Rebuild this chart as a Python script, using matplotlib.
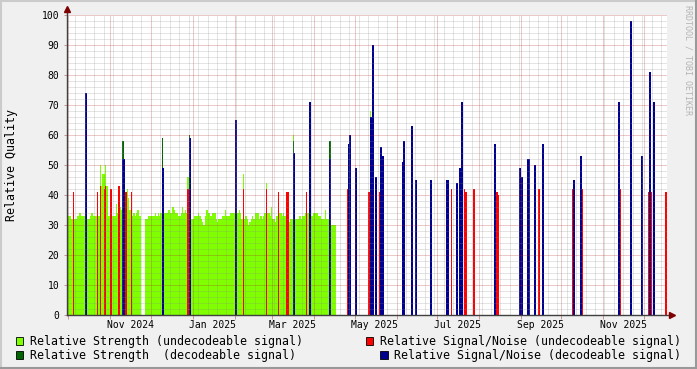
import numpy as np
import pandas as pd
import matplotlib
matplotlib.use('Agg')
import matplotlib.pyplot as plt
import matplotlib.dates as mdates
from matplotlib.patches import Rectangle
from matplotlib.lines import Line2D
from matplotlib.ticker import MultipleLocator, NullFormatter

plt.rcParams['font.family'] = 'DejaVu Sans Mono'

# relative strength, undecodeable signal: one value per day
strength_undec_start = '2024-09-30'
strength_undec = [
    33, 33, 33, 32, 32, 32, 32, 33, 33, 34,
    33, 33, 33, 33, 32, 32, 32, 33, 34, 33,
    33, 33, 33, 33, 50, 43, 47, 47, 50, 43,
    33, 33, 33, 33, 33, 33, 37, 34, 33, 36,
    35, 33, 33, 33, 42, 39, 35, 33, 33, 34,
    33, 34, 35, 33, 33, np.nan, np.nan, np.nan, 32, 32,
    33, 33, 33, 33, 33, 34, 33, 34, 33, 34,
    34, 34, 34, 34, 34, 35, 34, 34, 36, 35,
    34, 34, 33, 33, 34, 36, 34, 35, 34, 46,
    34, 34, 32, 32, 33, 33, 33, 34, 33, 32,
    31, 30, 33, 35, 34, 34, 33, 34, 34, 34,
    32, 31, 32, 32, 32, 33, 33, 35, 33, 33,
    33, 34, 34, 34, 34, 34, 34, 35, 34, 32,
    47, 32, 33, 32, 30, 31, 32, 33, 32, 34,
    34, 34, 32, 33, 32, 33, 34, 44, 34, 34,
    33, 36, 32, 32, 31, 33, 34, 34, 34, 33,
    34, 33, 33, 33, 31, 32, 32, 60, 32, 32,
    32, 32, 33, 32, 33, 33, 34, 34, 34, 32,
    32, 33, 34, 34, 34, 34, 33, 33, 32, 32,
    32, 35, 32, 32, 32, 30, 30, 30, 30,
]
strength_undec_late_dates = ['2025-05-12']
strength_undec_late = [68]

# relative strength, decodeable signal
strength_dec_dates = ['2024-11-10', '2024-12-09', '2024-12-29', '2025-03-16', '2025-04-12',
                      '2025-04-27', '2025-05-12', '2025-05-20', '2025-06-12', '2025-07-17',
                      '2025-07-19', '2025-11-29', '2025-12-08']
strength_dec = [58, 59, 60, 58, 58, 50, 52, 50, 53, 44, 44, 42, 57]

# relative signal/noise, undecodeable signal
snr_undec_dates = ['2024-10-04', '2024-10-22', '2024-10-24', '2024-10-27', '2024-10-28',
                   '2024-11-01', '2024-11-07', '2024-11-11', '2024-11-12', '2024-11-16',
                   '2024-12-28', '2025-02-02', '2025-02-07', '2025-02-24', '2025-03-05',
                   '2025-03-11', '2025-03-12', '2025-03-26', '2025-04-25', '2025-05-11',
                   '2025-05-19', '2025-05-22', '2025-07-11', '2025-07-21', '2025-07-22',
                   '2025-07-28', '2025-08-14', '2025-08-15', '2025-09-14', '2025-10-09',
                   '2025-10-16', '2025-11-13', '2025-12-04', '2025-12-06', '2025-12-17']
snr_undec = [41, 41, 43, 42, 43, 42, 43, 42, 41, 41,
             42, 41, 42, 42, 41, 41, 41, 41, 42, 41,
             41, 44, 42, 42, 41, 42, 41, 40, 42, 42,
             42, 42, 41, 41, 41]

# relative signal/noise, decodeable signal
snr_dec_dates = ['2024-10-13', '2024-11-10', '2024-12-09', '2024-12-29', '2025-02-01',
                 '2025-03-16', '2025-03-28', '2025-04-12', '2025-04-26', '2025-04-27',
                 '2025-05-01', '2025-05-12', '2025-05-14', '2025-05-16', '2025-05-20',
                 '2025-05-21', '2025-06-05', '2025-06-06', '2025-06-12', '2025-06-15',
                 '2025-06-26', '2025-07-08', '2025-07-15', '2025-07-17', '2025-07-18',
                 '2025-07-19', '2025-08-12', '2025-08-31', '2025-09-01', '2025-09-06',
                 '2025-09-11', '2025-09-17', '2025-10-10', '2025-10-15', '2025-11-12',
                 '2025-11-21', '2025-11-29', '2025-12-05', '2025-12-08']
snr_dec = [74, 52, 49, 59, 65, 54, 71, 52, 57, 60,
           49, 66, 90, 46, 56, 53, 51, 58, 63, 45,
           45, 45, 44, 49, 45, 71, 57, 49, 46, 52,
           50, 57, 45, 53, 71, 98, 53, 81, 71]

label_months = ['2024-11', '2025-01', '2025-03', '2025-05', '2025-07', '2025-09', '2025-11']

legend_labels = ['Relative Strength (undecodeable signal)',
                 'Relative Strength  (decodeable signal)',
                 'Relative Signal/Noise (undecodeable signal)',
                 'Relative Signal/Noise (decodeable signal)']
colors = ['#7FFF00', '#006400', '#FF0000', '#000090']

W, H = 697, 369


def fx(x):
    return x / W


def fy(y):
    return 1 - y / H


fig = plt.figure(figsize=(W / 100, H / 100), dpi=100, facecolor='#F0F0F0')
ax = fig.add_axes([fx(67), 54 / H, 600 / W, 300 / H])
ax.set_facecolor('white')

t0 = mdates.date2num(pd.Timestamp('2024-10-01'))
ax.set_xlim(t0 - 1.1, t0 - 1.1 + 600 / 1.35)
ax.set_ylim(0, 100)

# undecodeable strength as a filled step area
edges = mdates.date2num(pd.date_range(strength_undec_start, periods=len(strength_undec) + 1, freq='D'))
ax.stairs(np.array(strength_undec, dtype=float), edges, fill=True, baseline=0,
          color=colors[0], linewidth=0, zorder=1)
ax.bar(mdates.date2num(pd.to_datetime(strength_undec_late_dates)), strength_undec_late,
       width=1.0, align='edge', color=colors[0], linewidth=0, zorder=1)

ax.bar(mdates.date2num(pd.to_datetime(strength_dec_dates)), strength_dec,
       width=1.3, align='edge', color=colors[1], linewidth=0, zorder=1.1)
ax.bar(mdates.date2num(pd.to_datetime(snr_undec_dates)), snr_undec,
       width=1.0, align='edge', color=colors[2], linewidth=0, zorder=1.2)
ax.bar(mdates.date2num(pd.to_datetime(snr_dec_dates)), snr_dec,
       width=1.5, align='edge', color=colors[3], linewidth=0, zorder=1.3)

# grid like rrdtool: dotted, faint, on top of the data
ax.yaxis.set_major_locator(MultipleLocator(10))
ax.yaxis.set_minor_locator(MultipleLocator(2))
ax.xaxis.set_major_locator(mdates.MonthLocator())
ax.xaxis.set_minor_locator(mdates.WeekdayLocator(byweekday=mdates.SU))
ax.xaxis.set_major_formatter(NullFormatter())
ax.set_axisbelow(False)
ax.grid(which='major', color='#B02828', alpha=0.5, linestyle=(0, (1, 1)), linewidth=0.72)
ax.grid(which='minor', color='#8C8C8C', alpha=0.45, linestyle=(0, (1, 1)), linewidth=0.72)
ax.tick_params(axis='x', which='major', length=3, width=0.72, color='#C89898', labelbottom=False)
ax.tick_params(axis='y', which='major', length=2, width=0.72, color='#C89898', labelsize=7, pad=3.5)
ax.tick_params(which='minor', length=0)
for s in ax.spines.values():
    s.set_visible(False)

# axes with arrows
ax.plot([0, 0], [0, 1 + 5 / 300], transform=ax.transAxes, color='#404040', lw=1, clip_on=False, zorder=5)
ax.plot([0, 1 + 3 / 600], [0, 0], transform=ax.transAxes, color='#404040', lw=1, clip_on=False, zorder=5)
ax.plot(0, 1 + 6 / 300, transform=ax.transAxes, marker='^', ms=5, color='#7F0000', clip_on=False, zorder=6)
ax.plot(1 + 5 / 600, 0, transform=ax.transAxes, marker='>', ms=5, color='#7F0000', clip_on=False, zorder=6)

for m in label_months:
    t = pd.Timestamp(m + '-01')
    ax.text(mdates.date2num(t) + 15, -9.7 / 300, t.strftime('%b %Y'),
            transform=ax.get_xaxis_transform(), ha='center', va='center', fontsize=7)

fig.text(fx(12), fy(165), 'Relative Quality', rotation=90, ha='center', va='center', fontsize=8.4)
fig.text(fx(688), fy(60), 'RRDTOOL / TOBI OETIKER', rotation=270, ha='center', va='center',
         fontsize=6, color='#B4B4B4')

# legend
box_x = [15.5, 15.5, 365.5, 380]
text_x = [30, 30, 380.5, 394.5]
row_y = [341, 355, 341, 355]
for lbl, c, bx, tx, ry in zip(legend_labels, colors, box_x, text_x, row_y):
    fig.add_artist(Rectangle((fx(bx), fy(ry + 4)), 7.5 / W, 8 / H, transform=fig.transFigure,
                             facecolor=c, edgecolor='black', linewidth=0.6))
    fig.text(fx(tx), fy(ry), lbl, ha='left', va='center', fontsize=8.4)

# frame shading
fig.add_artist(Line2D([0, 1], [fy(0.75), fy(0.75)], transform=fig.transFigure, color='#CBCBCB', lw=1.5))
fig.add_artist(Line2D([fx(0.75), fx(0.75)], [0, 1], transform=fig.transFigure, color='#CBCBCB', lw=1.5))
fig.add_artist(Line2D([0, 1], [fy(H - 1), fy(H - 1)], transform=fig.transFigure, color='#999999', lw=1.5))
fig.add_artist(Line2D([fx(W - 1), fx(W - 1)], [0, 1], transform=fig.transFigure, color='#999999', lw=1.5))

fig.savefig('out.png', dpi=100, facecolor=fig.get_facecolor())
